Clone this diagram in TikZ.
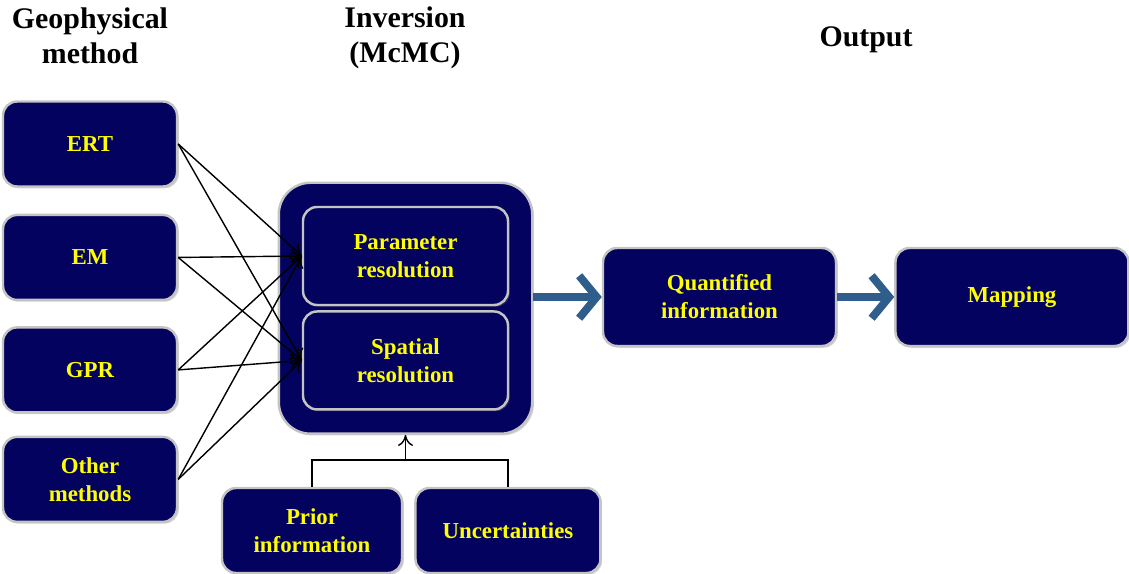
\documentclass[tikz,border=0pt]{standalone}
\usepackage{fontspec}
\setmainfont{Liberation Serif}
\definecolor{BoxNavy}{HTML}{03035F}
\definecolor{BoxRim}{HTML}{C4C4C4}
\definecolor{LabelYellow}{HTML}{FFFF00}
\definecolor{FlowBlue}{HTML}{2F5D8C}
\usepackage{tikz}
\usetikzlibrary{arrows.meta, positioning, fit, backgrounds, shadows}
\tikzset{
  % Box styles
  methodbox/.style={rectangle, rounded corners=8pt, draw=BoxRim, line width=1.4pt, fill=BoxNavy, text=LabelYellow, minimum width=3.48cm, minimum height=1.7cm, font=\fontsize{13}{16}\selectfont\bfseries, align=center, drop shadow={shadow xshift=1pt, shadow yshift=-1pt, opacity=0.35}},
  resbox/.style={methodbox, minimum width=4.1cm, minimum height=1.96cm},
  outbox/.style={methodbox, minimum width=4.66cm, minimum height=1.96cm},
  invbox/.style={methodbox, rounded corners=18pt, inner sep=0.46cm},
  % Text styles
  titletext/.style={font=\fontsize{17}{20}\selectfont\bfseries, align=center},
  % Arrow styles
  linkarrow/.style={-{To[length=2.2mm, width=3mm]}, line width=0.8pt, black},
  linkline/.style={line width=0.8pt, black},
  flowarrow/.style={-{Straight Barb[length=3.5mm, width=8.5mm]}, line width=4.5pt, FlowBlue}
}
\begin{document}
\begin{tikzpicture}
  \useasboundingbox (0,0) rectangle (22.58,11.46);

  % Column titles
  \node[titletext] (tgeo) at (1.8,10.74) {Geophysical\\method};
  \node[titletext] (tinv) at (8.1,10.7) {Inversion\\(McMC)};
  \node[titletext] (tout) at (17.32,10.66) {Output};

  % Geophysical methods
  \node[methodbox] (ert) at (1.8,8.58) {ERT};
  \node[methodbox, below=0.52cm of ert] (em) {EM};
  \node[methodbox, below=0.5cm of em] (gpr) {GPR};
  \node[methodbox, below=0.44cm of gpr] (other) {Other\\methods};

  % Inversion block
  \node[resbox] (param) at (8.11,6.34) {Parameter\\resolution};
  \node[resbox, below=0.08cm of param] (spatial) {Spatial\\resolution};
  \begin{scope}[on background layer]
    \node[invbox, fit=(param)(spatial)] (inv) {};
  \end{scope}

  % Output boxes
  \node[outbox] (quant) at (14.39,5.52) {Quantified\\information};
  \node[outbox, right=1.14cm of quant] (mapping) {Mapping};

  % Prior knowledge
  \node[methodbox, minimum width=3.6cm] (prior) at (6.24,0.85) {Prior\\information};
  \node[methodbox, minimum width=3.7cm, right=0.22cm of prior] (uncert) {Uncertainties};
  \coordinate[below=0.5cm of inv.south] (priorjoin);

  % Arrows
  \draw[linkarrow] (ert.east) -- (param.west);
  \draw[linkarrow] (ert.east) -- (spatial.west);
  \draw[linkarrow] (em.east) -- (param.west);
  \draw[linkarrow] (em.east) -- (spatial.west);
  \draw[linkarrow] (gpr.east) -- (param.west);
  \draw[linkarrow] (gpr.east) -- (spatial.west);
  \draw[linkarrow] (other.east) -- (param.west);
  \draw[linkarrow] (other.east) -- (spatial.west);
  \draw[linkline] (prior.north) |- (priorjoin) -| (uncert.north);
  \draw[linkarrow] (priorjoin) -- (inv.south);
  \draw[flowarrow] (inv.east |- quant.west) -- (quant.west);
  \draw[flowarrow] (quant.east) -- (mapping.west);
\end{tikzpicture}
\end{document}
